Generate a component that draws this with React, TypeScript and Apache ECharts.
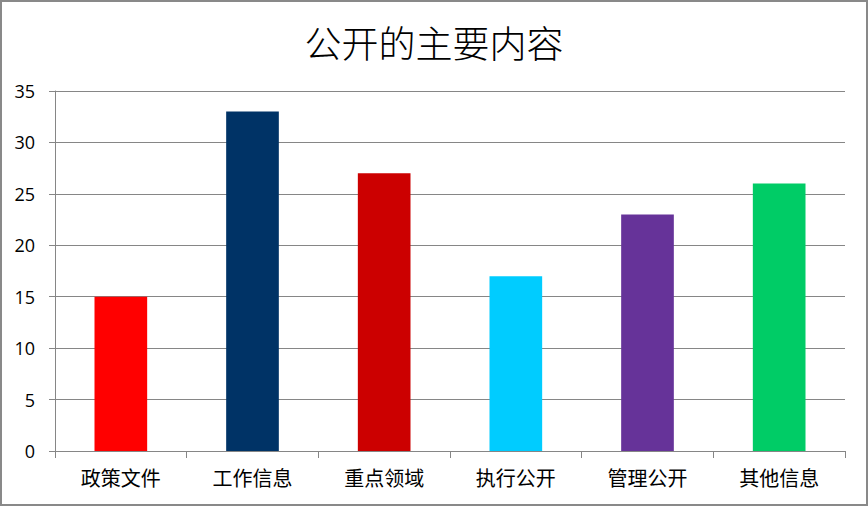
import React, { useEffect, useRef } from "react";
import * as echarts from "echarts";

const categories = ["政策文件", "工作信息", "重点领域", "执行公开", "管理公开", "其他信息"];
const values = [15, 33, 27, 17, 23, 26];
const barColors = ["#FF0000", "#003366", "#CC0000", "#00CCFF", "#663399", "#00CC66"];
const yTicks = { min: 0, max: 35, interval: 5 };
const titleText = "公开的主要内容";

export default function App() {
  const ref = useRef<HTMLDivElement>(null);
  useEffect(() => {
    if (!ref.current) return;
    const chart = echarts.init(ref.current, null, { renderer: "svg" });
    chart.setOption({
      animation: false,
      backgroundColor: "#ffffff",
      title: {
        text: titleText,
        left: "center",
        top: 18,
        textStyle: {
          fontFamily: "Noto Sans CJK SC",
          fontSize: 37,
          fontWeight: 300,
          color: "#000000",
        },
      },
      grid: { left: 55, right: 23, top: 91, bottom: 55, containLabel: false },
      xAxis: {
        type: "category",
        data: categories,
        boundaryGap: true,
        axisLine: { lineStyle: { color: "#868686", width: 1 } },
        axisTick: { show: true, length: 7, lineStyle: { color: "#868686" } },
        axisLabel: {
          fontFamily: "Noto Sans CJK SC",
          fontSize: 20,
          color: "#000000",
          margin: 16,
        },
      },
      yAxis: {
        type: "value",
        min: yTicks.min,
        max: yTicks.max,
        interval: yTicks.interval,
        axisLine: { show: true, lineStyle: { color: "#868686", width: 1 } },
        axisTick: { show: true, length: 6, lineStyle: { color: "#868686" } },
        splitLine: { lineStyle: { color: "#868686", width: 1 } },
        axisLabel: {
          fontFamily: "Open Sans",
          fontSize: 18,
          color: "#000000",
          margin: 20,
        },
      },
      series: [
        {
          type: "bar",
          barWidth: "40%",
          data: values.map((v, i) => ({ value: v, itemStyle: { color: barColors[i] } })),
        },
      ],
    });
    return () => chart.dispose();
  }, []);
  return (
    <div style={{ position: "fixed", left: 0, top: 0, width: 868, height: 506 }}>
      <div ref={ref} style={{ position: "absolute", left: 0, top: 0, width: 868, height: 506 }} />
      <div
        style={{
          position: "absolute",
          left: 0,
          top: 0,
          width: 868,
          height: 506,
          border: "2px solid #898989",
          boxSizing: "border-box",
          pointerEvents: "none",
        }}
      />
    </div>
  );
}
